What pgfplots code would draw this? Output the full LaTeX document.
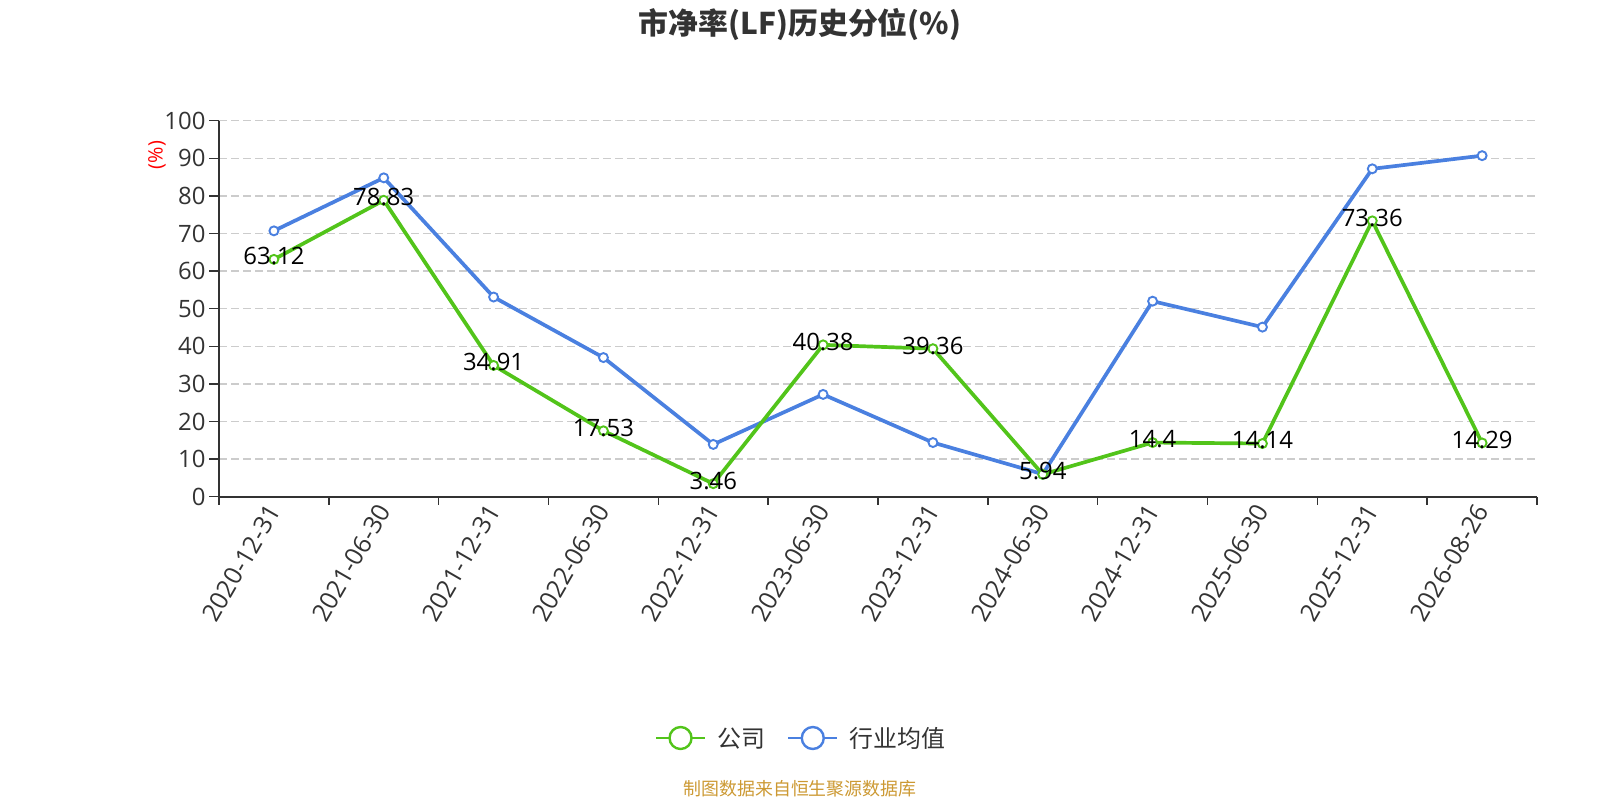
\documentclass[border=0pt]{standalone}
\usepackage{fontspec}
\setmainfont{Open Sans}
\newfontfamily\cjk{Noto Sans CJK SC}
\usepackage{pgfplots}
\pgfplotsset{compat=1.18}
\definecolor{cgreen}{RGB}{82,196,26}
\definecolor{cblue}{RGB}{74,128,224}
\definecolor{axisgray}{RGB}{51,51,51}
\definecolor{gridgray}{RGB}{204,204,204}
\definecolor{srcgold}{RGB}{204,153,51}
\begin{document}
\begin{tikzpicture}[x=1bp,y=1bp]
\path[use as bounding box] (0,0) rectangle (1600,800);
\begin{axis}[
  at={(219bp,303.3bp)}, anchor=south west,
  scale only axis, width=1318bp, height=376bp,
  xmin=-0.5, xmax=11.5, ymin=0, ymax=100,
  clip=false,
  axis x line*=bottom, axis y line*=left,
  axis line style={axisgray, line width=1.8bp, -},
  xtick={0,...,11},
  xticklabels={2020-12-31,2021-06-30,2021-12-31,2022-06-30,2022-12-31,2023-06-30,2023-12-31,2024-06-30,2024-12-31,2025-06-30,2025-12-31,2026-08-26},
  minor xtick={-0.5,0.5,...,11.5},
  ytick={0,10,...,100},
  tick align=outside,
  major tick length=10bp, minor tick length=8bp,
  major x tick style={draw=none},
  tick style={axisgray, line width=1.5bp},
  ymajorgrids,
  grid style={gridgray, dash pattern=on 8bp off 4bp, line width=1.4bp},
  /pgf/number format/assume math mode=true,
  yticklabel style={font=\fontsize{24}{26}\selectfont, text=axisgray},
  xticklabel style={font=\fontsize{25}{27}\selectfont, text=axisgray, rotate=60, anchor=east, inner sep=0pt},
  reverse legend,
  legend columns=2,
  legend style={at={(0.4408,-0.6418)}, anchor=center, draw=none, fill=none,
    font=\cjk\fontsize{24}{26}\selectfont, text=axisgray,
    nodes={inner sep=0pt},
    /tikz/every odd column/.append style={column sep=11bp},
    /tikz/every even column/.append style={column sep=22bp}},
]
\addplot[color=cblue, line width=3.7bp, mark=*, mark size=4.5bp,
  mark options={fill=white, line width=1.9bp},
  legend image code/.code={\draw[line width=2.4bp] (0bp,0bp) -- (49bp,0bp); \draw[line width=2.4bp, fill=white] (24.5bp,0bp) circle (11bp);}]
coordinates {(0,70.7) (1,84.8) (2,53.1) (3,37.0) (4,13.9) (5,27.2) (6,14.4) (7,6.0) (8,52.0) (9,45.1) (10,87.2) (11,90.7)};
\addlegendentry{行业均值}
\addplot[color=cgreen, line width=3.7bp, mark=*, mark size=4.5bp,
  mark options={fill=white, line width=1.9bp},
  nodes near coords,
  every node near coord/.append style={font=\fontsize{24}{26}\selectfont, text=black, anchor=center, yshift=3bp},
  legend image code/.code={\draw[line width=2.4bp] (0bp,0bp) -- (49bp,0bp); \draw[line width=2.4bp, fill=white] (24.5bp,0bp) circle (11bp);}]
coordinates {(0,63.12) (1,78.83) (2,34.91) (3,17.53) (4,3.46) (5,40.38) (6,39.36) (7,5.94) (8,14.4) (9,14.14) (10,73.36) (11,14.29)};
\addlegendentry{公司}
\end{axis}
\node[font=\cjk\bfseries\fontsize{30}{32}\selectfont, text=axisgray] at (800,775) {市净率(LF)历史分位(\%)};
\node[rotate=90, font=\fontsize{20}{22}\selectfont, text=red] at (157,645) {(\%)};
\node[font=\cjk\fontsize{18}{20}\selectfont, text=srcgold] at (800,11) {制图数据来自恒生聚源数据库};
\end{tikzpicture}
\end{document}
